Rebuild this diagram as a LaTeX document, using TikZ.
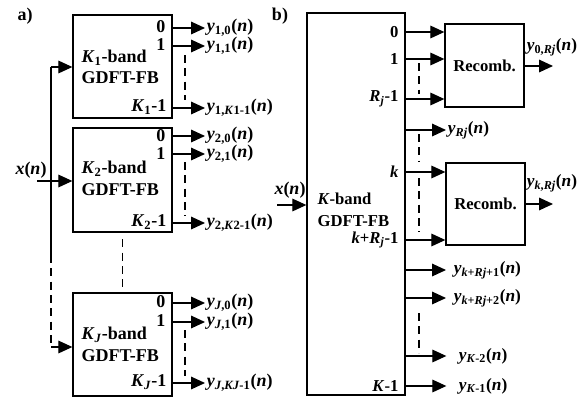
\documentclass[tikz,border=0pt]{standalone}
\usepackage{fontspec}
\setmainfont{Liberation Serif}
\usetikzlibrary{arrows.meta,fit}
\begin{document}
\begin{tikzpicture}[x=0.75pt,y=-0.75pt,line width=0.9pt,
  arr/.style={-{Triangle[length=10.5pt,width=9.5pt]}},
  dsh/.style={dash pattern=on 6pt off 4pt,line width=0.8pt},
  boxf/.style={draw,inner sep=0pt,line width=1pt},
  txtA/.style={font=\bfseries\fontsize{13.5}{15}\selectfont,inner sep=0pt},
  txtB/.style={font=\bfseries\fontsize{12.5}{14}\selectfont,inner sep=0pt},
  ylabA/.style={font=\bfseries\fontsize{13.5}{15}\selectfont,inner sep=1pt,anchor=west},
  ylabB/.style={font=\bfseries\fontsize{13}{15}\selectfont,inner sep=1pt,anchor=west}]
\useasboundingbox (0,0) rectangle (583,397);

% ---------------- panel a ----------------
\node[txtA] (la) at (25,16) {a)};
\node[boxf,fit={(73,15)(172,118)}] (A1) {};
\node[boxf,fit={(73,128)(172,232)}] (A2) {};
\node[boxf,fit={(73,293)(172,396)}] (AJ) {};

\node[txtA,anchor=west] (A1t) at (81,58) {\textit{K}\textsubscript{1}-band};
\node[txtA,anchor=west] (A1g) at (81,78) {GDFT-FB};
\node[txtA,anchor=west] (A2t) at (81,169) {\textit{K}\textsubscript{2}-band};
\node[txtA,anchor=west] (A2g) at (81,190) {GDFT-FB};
\node[txtA,anchor=west] (AJt) at (81,335) {\textit{K}\textsubscript{\textit{J}}-band};
\node[txtA,anchor=west] (AJg) at (81,356) {GDFT-FB};

\node[txtA,anchor=east] (A1p0) at (166,27) {0};
\node[txtA,anchor=east] (A1p1) at (166,45) {1};
\node[txtA,anchor=east] (A1pK) at (167,107) {\textit{K}\textsubscript{1}-1};
\node[txtA,anchor=east] (A2p0) at (166,136) {0};
\node[txtA,anchor=east] (A2p1) at (166,154) {1};
\node[txtA,anchor=east] (A2pK) at (167,222) {\textit{K}\textsubscript{2}-1};
\node[txtA,anchor=east] (AJp0) at (166,302) {0};
\node[txtA,anchor=east] (AJp1) at (166,321) {1};
\node[txtA,anchor=east] (AJpK) at (167,382) {\textit{K}\textsubscript{\textit{J}}-1};

\node[ylabA] (y10) at (205,28) {\textit{y}\textsubscript{1,0}(\textit{n})};
\node[ylabA] (y11) at (205,46) {\textit{y}\textsubscript{1,1}(\textit{n})};
\node[ylabA] (y1K) at (205,108) {\textit{y}\textsubscript{1,\textit{K}1-1}(\textit{n})};
\node[ylabA] (y20) at (205,136) {\textit{y}\textsubscript{2,0}(\textit{n})};
\node[ylabA] (y21) at (205,154) {\textit{y}\textsubscript{2,1}(\textit{n})};
\node[ylabA] (y2K) at (205,223) {\textit{y}\textsubscript{2,\textit{K}2-1}(\textit{n})};
\node[ylabA] (yJ0) at (205,303) {\textit{y}\textsubscript{\textit{J},0}(\textit{n})};
\node[ylabA] (yJ1) at (205,322) {\textit{y}\textsubscript{\textit{J},1}(\textit{n})};
\node[ylabA] (yJK) at (205,383) {\textit{y}\textsubscript{\textit{J},\textit{KJ}-1}(\textit{n})};

\foreach \b/\l in {A1/y10,A1/y11,A1/y1K,A2/y20,A2/y21,A2/y2K,AJ/yJ0,AJ/yJ1,AJ/yJK}
  \draw[arr] (\b.east |- \l.west) -- (\l.west);

\draw[dsh] (185,55) -- (185,100);
\draw[dsh] (185,162) -- (185,216);
\draw[dsh] (185,330) -- (185,376);

% input of panel a
\node[txtA] (xa) at (31,170) {\textit{x}(\textit{n})};
\coordinate (xin) at (37,181);
\draw[arr] (xin) -- (A2.west |- xin);
\coordinate (va) at (51,67);
\coordinate (vm) at (51,255);
\coordinate (vb) at (51,347);
\draw (va) -- (vm);
\draw[dsh] (vm) -- (vb);
\draw[arr] (va) -- (A1.west |- va);
\draw[arr] (vb) -- (AJ.west |- vb);
\draw[dsh,shorten <=5pt] (A2.south) -- (AJ.north);

% ---------------- panel b ----------------
\node[txtA] (lb) at (280,16) {b)};
\node[boxf,fit={(307,13)(405,395)}] (B) {};
\node[txtB,anchor=west] (Bt) at (317,199) {\textit{K}-band};
\node[txtB,anchor=west] (Bg) at (317,221) {GDFT-FB};

\node[txtB,anchor=east] (Bp0) at (399,32) {0};
\node[txtB,anchor=east] (Bp1) at (399,59) {1};
\node[txtB,anchor=east] (BpR) at (399,99) {\textit{R}\textsubscript{\textit{j}}-1};
\node[txtB,anchor=east] (Bpk) at (399,172) {\textit{k}};
\node[txtB,anchor=east] (BpkR) at (399,240) {\textit{k}+\textit{R}\textsubscript{\textit{j}}-1};
\node[txtB,anchor=east] (BpK) at (399,386) {\textit{K}-1};

\node[boxf,fit={(445,24)(524,107)}] (R1) {};
\node[boxf,fit={(446,163)(525,245)}] (R2) {};
\node[txtB] (R1t) at (R1.center) {Recomb.};
\node[txtB] (R2t) at (R2.center) {Recomb.};

\draw[arr] (B.east |- Bp0) -- (R1.west |- Bp0);
\draw[arr] (B.east |- Bp1) -- (R1.west |- Bp1);
\draw[arr] (B.east |- BpR) -- (R1.west |- BpR);
\draw[arr] (B.east |- Bpk) -- (R2.west |- Bpk);
\draw[arr] (B.east |- BpkR) -- (R2.west |- BpkR);

\node[ylabB] (yRj) at (446,130) {\textit{y}\textsubscript{\textit{Rj}}(\textit{n})};
\node[ylabB] (yk1) at (452,270) {\textit{y}\textsubscript{\textit{k}+\textit{Rj}+1}(\textit{n})};
\node[ylabB] (yk2) at (452,298) {\textit{y}\textsubscript{\textit{k}+\textit{Rj}+2}(\textit{n})};
\node[ylabB] (yK2) at (457,356) {\textit{y}\textsubscript{\textit{K}-2}(\textit{n})};
\node[ylabB] (yK1) at (457,386) {\textit{y}\textsubscript{\textit{K}-1}(\textit{n})};

\draw[arr] (B.east |- yRj.west) -- (yRj.west);
\draw[arr] (B.east |- yk1.west) -- ([xshift=-4.5pt]yk1.west);
\draw[arr] (B.east |- yk2.west) -- ([xshift=-4.5pt]yk2.west);
\draw[arr] (B.east |- yK2.west) -- ([xshift=-8pt]yK2.west);
\draw[arr] (B.east |- yK1.west) -- ([xshift=-8pt]yK1.west);

\coordinate (r1o) at (553,66);
\coordinate (r2o) at (553,204);
\draw[arr] (R1.east |- r1o) -- (r1o);
\draw[arr] (R2.east |- r2o) -- (r2o);
\node[ylabB] (y0R) at (525,47) {\textit{y}\textsubscript{0,\textit{Rj}}(\textit{n})};
\node[ylabB] (ykR) at (525,183) {\textit{y}\textsubscript{\textit{k},\textit{Rj}}(\textit{n})};

\draw[dsh] (419,63) -- (419,94);
\draw[dsh] (419,134) -- (419,162);
\draw[dsh] (419,178) -- (419,232);
\draw[dsh] (419,313) -- (419,353);

% input of panel b
\node[txtA] (xb) at (290,190) {\textit{x}(\textit{n})};
\coordinate (xbin) at (277,205);
\draw[arr] (xbin) -- (B.west |- xbin);
\end{tikzpicture}
\end{document}
